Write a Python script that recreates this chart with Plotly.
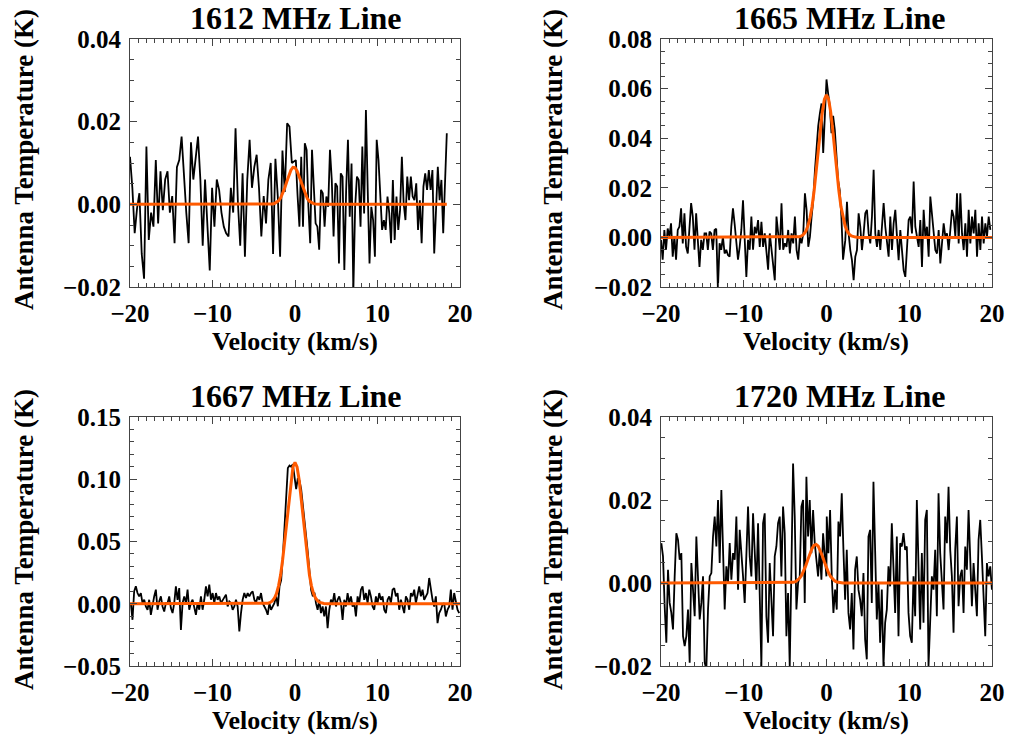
import numpy as np
import plotly.graph_objects as go

# ---------------- DATA (antenna temperature in mK; velocity in km/s) ----------------
TITLES = ["1612 MHz Line", "1665 MHz Line", "1667 MHz Line", "1720 MHz Line"]
X_TICKS = [-20, -10, 0, 10, 20]
Y_TICKS_1612 = [-0.02, 0.00, 0.02, 0.04]
Y_TICKS_1665 = [-0.02, 0.00, 0.02, 0.04, 0.06, 0.08]
Y_TICKS_1667 = [-0.05, 0.00, 0.05, 0.10, 0.15]
Y_TICKS_1720 = [-0.02, 0.00, 0.02, 0.04]

# spectra as channel segments: (v_first, v_last, values in mK)
T1612_A = [11.5, 4, -7, -1, 2.7, -12, -18, 14, -8.6, -2, -5.4, 10.7, -4.6, 8, -1.4, 6, 8, -2, 2, -9.4,
           9, 10.7, 16.4, 6, -2, -9.4, 15, 6, 11, 16.4, 6, -10, 6, -3.8, -16, 4, -5.4, 6, 3.5, -2,
           -5.4, -7, -7.8, 4, -2, 18.4, 0.5, -10, 7.5, -12.7, 6, 15.6, 4, 9, 12, 4, -7.8, 2, -4.6, 6,
           10, -12, 11, 2, -12.7, 13, 3, 19.6, 18.8, 10, 10.5]
T1612_B = [10.7, 1.9, -5.4, 11.5, -5.4, 14.8, 13.2, -0.6, -9.4, 13.2, 4.3, -4.6, -5.4, -11, 3.5, 2.7,
           -5.4, 1.9, -0.6, 13.2, 5.9, -7.8, 5.1, 4.3, -14.3, 7.5, 6.7, -15.9, 3.5, 15.6, -3, 9.9, -21,
           -0.6, 6.7, 5.9, -5.4, 14, -2.2, 22.8, 3.5, -14.3, -0.6, -3.8, -12.7, 15.6, 10.7, 1, -6.2,
           -3.8, -6.2, 1.9, -2.2, -9.4, 5.9, -8.6, 1.9, -6.2, -1.4, 11.5, 0.2, -3.8, 6.7, 1, 6.7, 1.9,
           1, 5.1, -6.2, 1, -9.4, 4.3, 7.5, 3.5, 8.3, 3.5, 8.3, -11.9, -1.4, 9.1, 1, 5.9, -7, 5.9, 17.2]
SPEC_1612 = [(-20.0, -0.1, T1612_A), (0.1, 18.4, T1612_B)]

T1665_A = [-1, -9, 3, -5, 3.6, 0.3, 5.7, -7.8, 0.3, -9, 3, 4.3, 11.7, -2.4, 9.7, -3.8, -6.5, 4.3, 13.8,
           8.4, -5, 9.7, -3.8, -11.9, -1, -5, 1.6, 1.6, -5, 2.3, 1.6, -5, 3, 3.5, -21, -2.4, -5, 0.3,
           -6.5, -5, -7.1, -7.8, 4.3, 11.7, 5.4, -2.4, -9, -3.8, 3, 15, 1.6, -16, -1, -5, 8.4, -5, 4.3,
           1.6, 7, -3.8, 6.3, -3.8, 1.6, -6.5, -13, 1.6, -5, -11.9, -17.3, 8.4, 1.6, -5, 13.8, -5,
           -2.4, -3.8, 3, -6.5, 1.6, -2.4, 8.4, -5, -9, 0.3, -2.4, 1.6, 17.8, 11, -3.8, 0.3]
T1665_B = [8.4, 15, 27, 38, 45, 50, 54, 34, 53, 63.7, 58, 53, 42, 49, 43.5, 32.7, 23, 19, 8.4, -9]
T1665_C = [-1.1, 14.4, 1.6, -5.1, -9.2, -17.3, -7.8, -5.1, 9.7, 4.3, -5.1, 1.6, 9.7, 11.1, 1.6, -2.4,
           8.4, 27.3, 1.6, -3.8, 3, -5.1, 5.7, 13.8, 4.3, -2.4, -7.8, 8.4, -5.1, 5.7, 11.1, 0.3, -9.2,
           3, -5.1, -13.2, -15.9, -5.1, 7, 8.4, 1.6, 22.5, 4.3, 0.3, -3.8, 7, -11.9, 11.1, 0.3, 4.3,
           -7.8, 16.5, 9.7, 1.6, -5.1, -6.5, 3, -10.5, -3.8, 5.7, 0.3, 1.6, -5.1, 4.3, 11.1, 8.4, 0.3,
           17.8, -2.4, 17.8, 1.6, -5.1, 5.7, -7.8, 11.1, -2.4, 8.4, 1.6, 11.1, -7.8, 5.7, -5.1, 8.4,
           -2.4, 5.7, 0.3, 8.4, 3]
SPEC_1665 = [(-20.0, -2.0, T1665_A), (-1.8, 2.0, T1665_B), (2.27, 19.8, T1665_C)]

T1667_A = [0.5, -12.9, 10, 14, 8.6, 5.9, 8.6, 0.5, 3.2, -2.2, -4.8, 3.2, -8.9, 0.5, 5.9, 11.3, -4.8,
           1.9, 5.9, -2.2, -6.2, 0.5, 0.5, 5.9, -3.5, -7.5, 0.5, 14, 3.2, 12.6, -21, 0.5, 5.9, 0.5,
           11.3, -4.8, 0.5, 3.2, -2.2, -8.9, 0.5, -4.8, 5.9, -4.8, 3.2, 14, 5.9, 15.3, 3.2, 8.6, 0.5,
           8.6, 3.2, 5.9, 0.5, 3.2, 4.6, 7.3, -2.2, 1.9, 0.5, -4.8, -2.2, 3.2, -2.2, -22.3, -7.5, 3.2,
           8.6, 4.6, 8.6, 5.9, 8.6, 10, 3.2, 0.5, 5.9, 3.2, 8.6, 0.5, -2.2, -4.8, -8.9, 0.5, -4.8,
           -2.2, 0.5]
T1667_B = [6, -2, 14, 19, 38, 65, 89, 109, 111, 110, 112, 103, 92, 101, 99, 92, 81, 68, 54, 41, 27,
           11, 6, 9]
T1667_C = [0.5, -4.8, 3.2, -7.5, -2.2, -10.2, -2.2, -19.6, -4.8, 3.2, 0.5, 8.6, -2.2, 3.2, 5.9, 0.5,
           -12.9, 3.2, -2.2, 8.6, 0.5, 5.9, -2.2, 0.5, -10.2, 5.9, 0.5, 11.3, 14, 3.2, 8.6, 0.5, 11.3,
           5.9, -2.2, -4.8, 5.9, 0.5, 8.6, 3.2, 5.9, -4.8, -7.5, 3.2, 5.9, 0.5, 11.3, 12.6, 5.9, 8.6,
           -4.8, 3.2, -2.2, -7.5, 5.9, 3.2, -4.8, 8.6, 5.9, 11.3, 0.5, 8.6, 14, 5.9, 11.3, 3.2, 5.9,
           8.6, 20.7, 11.3, 3.2, -2.2, 5.9, -15.6, -7.5, -4.8, -0.8, 0.5, -10.2, -4.8, -2.2, 11.3,
           -4.8, 8.6, 0.5, -4.8, -7.5]
SPEC_1667 = [(-19.9, -2.5, T1667_A), (-2.28, 2.36, T1667_B), (2.54, 19.9, T1667_C)]

T1720_A = [9.6, 6.4, -5.6, -14.4, 3.2, -4.8, -7.2, -11.2, 1.6, 12, 10.4, 5.6, 7.2, -12.8, -15.2,
           -12.8, -6.4, -19.2, 4.8, -1.6, -8, 11.2, -1.6, -8.8, -4.8, 1.6, -19.2, -20.8, -6.4, 1.6,
           2.4, 11.2, 16, 8.8, 20, 4.8, 22.4, 8, -6.4, 4, 0, 9.6, 0.8, 7.2, 5.6, 16, -1.6, 12.8, 8,
           1.6, -4.8, 8, 18.4, 6.4, 1.6, 16.8, 8, -1.6, 14.4, -6.4, -20, 14.4, 16.8, -8, -14.4, 4.8,
           -3.2, -12.8, 6.4, 8.8, 14.4, 16, 1.6, 18.4, 12, -12.8, -2.4, -20, 3.2, 28.8, 16, -6.4, 0,
           1.6, 18.4, 20, -4.8, 25.6, 11.2, 20, 7.2, 17.6, 9.6, 5.6, 1.6, 8, 0.8, 12, 5.6, 1.6]
T1720_B = [16, 7.2, 17.6, 1.6, -7.2, -1.6, -6.4, 14.8, 11.2, 21.6, 8, -4, 8, -7.2, -11.2, -2.4, -16,
           3.2, 6.4, -1.6, -4, -8, 2.4, -13.6, -18.4, 11.2, 12.8, -4.8, 24.4, 6.4, -8.8, 0, -14.4,
           -1.6, -20, -9.6, -6.4, 4, -0.8, 14.4, 0.8, -7.2, 11.2, -12.8, 9.6, 8.8, 12, 8, 8.8, -7.2,
           -12.8, -14.4, 1.6, -8, 20, 1.6, -11.2, 7.2, -9.6, 15.2, 17.6, -20, -9.6, 1.6, -1.6, 8, -8,
           21.6, 7.2, -1.6, -6.4, 16, 9.6, 23.2, 8, 1.6, -12, 8, 16, -5.6, 1.6, 3.2, -7.2, 8.8, 3.2,
           17.6, 8, -5.6, 4.8, -1.6, -8, 10.4, 15.2, 6.4, -3.2, -12.8, 4.8, 1.6, 4, -1.6]
SPEC_1720 = [(-19.96, -0.01, T1720_A), (0.03, 19.99, T1720_B)]

FIT_1612 = (-20.0, -3.0, 0.25, 18.4,
            [0, 0.08, 0.2, 0.43, 0.84, 1.53, 2.55, 3.9, 5.46, 7.02, 8.27, 8.94, 8.86, 8.06, 6.72,
             5.14, 3.6, 2.32, 1.37, 0.74, 0.37, 0.17, 0.07, 0.03, 0])
FIT_1665 = (-20.0, -4.0, 0.25, 20.0,
            [0, 0.05, 0.13, 0.3, 0.64, 1.3, 2.5, 4.6, 7.8, 12.4, 18.7, 26.3, 34.9, 43.4, 50.7, 55.7,
             57.5, 55.7, 50.7, 43.4, 34.9, 26.3, 18.7, 12.4, 7.8, 4.6, 2.5, 1.3, 0.64, 0.3, 0.13,
             0.05, 0])
FIT_1667 = (-20.0, -4.0, 0.25, 20.0,
            [0, 0.07, 0.19, 0.47, 1.05, 2.2, 4.4, 8.1, 14.2, 23.0, 35.2, 50.3, 67.4, 84.7, 99.6,
             109.9, 113.5, 109.9, 99.6, 84.7, 67.4, 50.3, 35.2, 23.0, 14.2, 8.1, 4.4, 2.2, 1.05,
             0.47, 0.19, 0.07, 0])
FIT_1720 = (-20.0, -4.75, 0.25, 20.0,
            [0, 0.03, 0.07, 0.16, 0.33, 0.64, 1.13, 1.88, 2.9, 4.19, 5.64, 7.09, 8.31, 9.1, 9.29,
             8.85, 7.86, 6.52, 5.05, 3.65, 2.46, 1.54, 0.91, 0.5, 0.25, 0.12, 0.05, 0])

PANELS = [
    (TITLES[0], SPEC_1612, FIT_1612, [-0.02, 0.04], Y_TICKS_1612, 0.005),
    (TITLES[1], SPEC_1665, FIT_1665, [-0.02, 0.08], Y_TICKS_1665, 0.005),
    (TITLES[2], SPEC_1667, FIT_1667, [-0.05, 0.15], Y_TICKS_1667, 0.01),
    (TITLES[3], SPEC_1720, FIT_1720, [-0.02, 0.04], Y_TICKS_1720, 0.005),
]

# ---------------- LAYOUT ----------------
W, H = 1011, 739
FONT = "Liberation Serif"
ORANGE = "#FF5A00"


def px(x):
    return x / W


def py(y):
    return 1 - y / H


XDOM = [[px(130), px(460)], [px(661), px(992)]]
YDOM = [[py(287), py(39)], [py(666), py(417)]]
TITLE_X = [296, 840]
TITLE_Y = [18, 396]
XLAB_Y = [342, 720]
XLAB_X = [295, 826]
YLAB_X = [24, 553]
YLAB_Y = [160, 540]

fig = go.Figure()
layout = dict(width=W, height=H, margin=dict(l=0, r=0, t=0, b=0, autoexpand=False),
              paper_bgcolor="white", plot_bgcolor="white", showlegend=False,
              font=dict(family=FONT, color="black"))
annotations = []

for i, (title, spec, fit, yrange, yticks, ymin) in enumerate(PANELS):
    col, row = i % 2, i // 2
    sfx = "" if i == 0 else str(i + 1)
    vel, temp = [], []
    for v0, v1, vals in spec:
        vel.extend(np.linspace(v0, v1, len(vals)).tolist())
        temp.extend([t / 1000.0 for t in vals])
    v_flat, v_first, step, v_last, fvals = fit
    fv = [v_flat] + [v_first + k * step for k in range(len(fvals))] + [v_last]
    ft = [0.0] + [t / 1000.0 for t in fvals] + [0.0]

    fig.add_trace(go.Scatter(x=vel, y=temp, mode="lines", line=dict(color="black", width=1.8),
                             xaxis="x" + sfx, yaxis="y" + sfx, hoverinfo="skip"))
    fig.add_trace(go.Scatter(x=fv, y=ft, mode="lines", line=dict(color=ORANGE, width=3),
                             xaxis="x" + sfx, yaxis="y" + sfx, hoverinfo="skip"))

    common = dict(showgrid=False, zeroline=False, showline=True, linecolor="#444444", linewidth=1,
                  mirror="allticks", ticks="inside", ticklen=7, tickwidth=1, tickcolor="#444444",
                  tickfont=dict(family=FONT, size=25, color="black", weight="bold"))
    layout["xaxis" + sfx] = dict(common, domain=XDOM[col], range=[-20, 20], tickvals=X_TICKS,
                                 anchor="y" + sfx, ticklabelstandoff=4,
                                 minor=dict(tickvals=list(range(-20, 21)), ticks="inside",
                                            ticklen=4, tickcolor="#444444"))
    layout["yaxis" + sfx] = dict(common, domain=YDOM[row], range=yrange, tickvals=yticks,
                                 tickformat=".2f", anchor="x" + sfx, ticklabelstandoff=3,
                                 minor=dict(dtick=ymin, ticks="inside", ticklen=4,
                                            tickcolor="#444444"))

    annotations.append(dict(text=title, x=px(TITLE_X[col]), y=py(TITLE_Y[row]), xref="paper",
                            yref="paper", showarrow=False, xanchor="center", yanchor="middle",
                            font=dict(family=FONT, size=32, color="black", weight="bold")))
    annotations.append(dict(text="Velocity (km/s)", x=px(XLAB_X[col]), y=py(XLAB_Y[row]),
                            xref="paper", yref="paper", showarrow=False, xanchor="center",
                            yanchor="middle",
                            font=dict(family=FONT, size=26, color="black", weight="bold")))
    annotations.append(dict(text="Antenna Temperature (K)", x=px(YLAB_X[col]),
                            y=py(YLAB_Y[row]), xref="paper", yref="paper", showarrow=False,
                            textangle=-90, xanchor="center", yanchor="middle",
                            font=dict(family=FONT, size=27, color="black", weight="bold")))

layout["annotations"] = annotations
fig.update_layout(**layout)
fig.write_html("out.html", config={"displayModeBar": False},
               post_script="document.body.style.margin='0';document.body.style.overflow='hidden';")
